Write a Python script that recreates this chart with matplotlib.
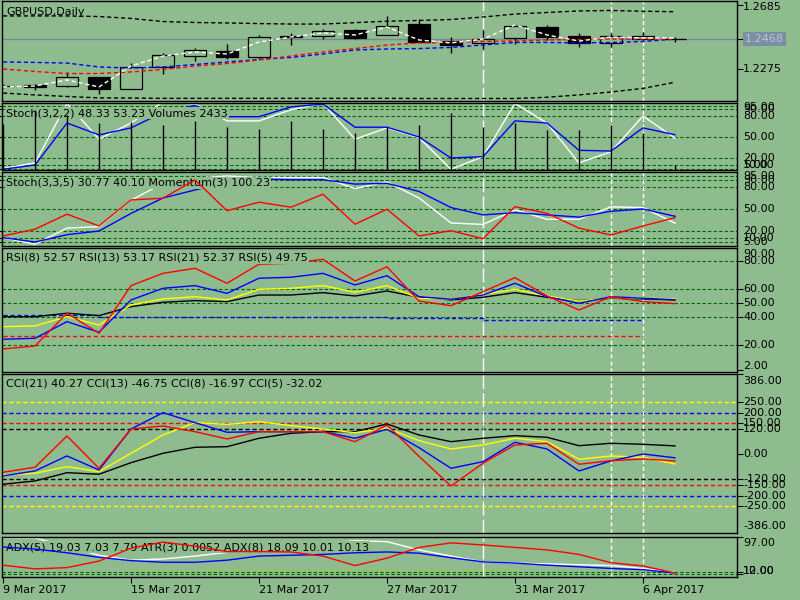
import matplotlib
matplotlib.use('Agg')
import matplotlib.pyplot as plt
from matplotlib.patches import Rectangle

BG = '#8fbc8f'
GRID = '#006400'
W, H = 800, 600

# ---- data (one value per daily bar) ----
date_idx = [0, 4, 8, 12, 16, 20]
date_labels = ['9 Mar 2017', '15 Mar 2017', '21 Mar 2017', '27 Mar 2017', '31 Mar 2017', '6 Apr 2017']

opens = [1.2169, 1.2172, 1.2166, 1.2224, 1.2147, 1.2288, 1.2358, 1.2390, 1.2352, 1.2486, 1.2486,
         1.2525, 1.2493, 1.2563, 1.2454, 1.2442, 1.2474, 1.2544, 1.2486, 1.2442, 1.2467, 1.2470]
highs = [1.2179, 1.2179, 1.2256, 1.2224, 1.2313, 1.2378, 1.2410, 1.2435, 1.2493, 1.2506, 1.2531,
         1.2531, 1.2615, 1.2595, 1.2480, 1.2525, 1.2563, 1.2557, 1.2506, 1.2506, 1.2512, 1.2480]
lows = [1.2153, 1.2141, 1.2160, 1.2115, 1.2147, 1.2243, 1.2326, 1.2339, 1.2339, 1.2429, 1.2467,
        1.2467, 1.2493, 1.2448, 1.2378, 1.2403, 1.2435, 1.2461, 1.2416, 1.2416, 1.2461, 1.2448]
closes = [1.2163, 1.2160, 1.2224, 1.2147, 1.2288, 1.2365, 1.2397, 1.2352, 1.2480, 1.2480, 1.2518,
          1.2474, 1.2550, 1.2448, 1.2429, 1.2467, 1.2550, 1.2480, 1.2442, 1.2486, 1.2486, 1.2468]

ma_fast = [1.2160, 1.2166, 1.2205, 1.2160, 1.2294, 1.2358, 1.2384, 1.2371, 1.2448, 1.2480, 1.2506,
           1.2493, 1.2544, 1.2461, 1.2442, 1.2467, 1.2557, 1.2493, 1.2454, 1.2480, 1.2474, 1.2474]
ma_red = [1.2275, 1.2259, 1.2246, 1.2246, 1.2256, 1.2272, 1.2294, 1.2310, 1.2333, 1.2358, 1.2384,
          1.2406, 1.2429, 1.2442, 1.2445, 1.2451, 1.2454, 1.2461, 1.2464, 1.2467, 1.2467, 1.2467]
ma_blue = [1.2320, 1.2317, 1.2313, 1.2288, 1.2281, 1.2288, 1.2304, 1.2320, 1.2336, 1.2349, 1.2371,
           1.2397, 1.2403, 1.2406, 1.2413, 1.2429, 1.2445, 1.2445, 1.2442, 1.2445, 1.2451, 1.2467]
env_up = [1.2615, 1.2615, 1.2615, 1.2611, 1.2599, 1.2579, 1.2573, 1.2570, 1.2566, 1.2563, 1.2563,
          1.2572, 1.2581, 1.2586, 1.2592, 1.2608, 1.2627, 1.2637, 1.2647, 1.2650, 1.2645, 1.2642]
env_dn = [1.2121, 1.2109, 1.2099, 1.2090, 1.2089, 1.2087, 1.2087, 1.2087, 1.2087, 1.2087, 1.2087,
          1.2087, 1.2087, 1.2086, 1.2086, 1.2086, 1.2086, 1.2094, 1.2109, 1.2128, 1.2151, 1.2190]
last_price = 1.2468

stoch1_blue = [4, 10, 70, 53, 63, 85, 95, 79, 79, 93, 97, 64, 64, 50, 20, 22, 73, 70, 31, 30, 63, 53.23]
stoch1_white = [5, 13, 98, 47, 70, 100, 97, 73, 73, 89, 98, 47, 63, 49, 4, 22, 98, 70, 13, 29, 80, 48.33]
volumes = [27000, 35600, 32600, 27700, 28600, 26600, 29200, 25600, 24300, 29200, 24300,
           21700, 25600, 26600, 33600, 25300, 27700, 23700, 23700, 26600, 21700, 2433]

stoch2_blue = [11, 5, 15, 20, 44, 65, 76, 86, 91, 90, 90, 84, 85, 74, 52, 42, 45, 42, 39, 47, 50, 40.10]
stoch2_white = [11, 2, 24, 26, 62, 85, 92, 95, 93, 93, 93, 78, 87, 65, 31, 29, 49, 36, 36, 53, 52, 30.77]
momentum = [99.50, 99.77, 100.37, 99.90, 100.94, 101.01, 101.74, 100.51, 100.85, 100.65, 101.17,
            99.97, 100.57, 99.50, 99.71, 99.39, 100.67, 100.41, 99.81, 99.54, 99.90, 100.23]

rsi5 = [17.4, 19.5, 42.9, 28.6, 62.6, 71.4, 75, 64.3, 77.9, 78.6, 81.4, 65.9, 76.1, 51.6, 48.3,
        58.3, 68.3, 55.2, 45.2, 54.7, 51.2, 49.75]
rsi8 = [24.3, 25, 36.9, 29.3, 52.4, 60.7, 62.6, 57.1, 67.9, 68.6, 71.4, 63.1, 69.7, 54.7, 52.9,
        55.9, 64.3, 54.7, 50, 54.7, 53.6, 52.57]
rsi13 = [33.3, 33.8, 40.4, 34.5, 48.8, 53.1, 54.7, 52.4, 60, 60.7, 62.6, 57.9, 62.6, 53.6, 52.9,
         56.4, 60, 55.2, 51.6, 54, 53.6, 53.17]
rsi21 = [40.4, 40.4, 42.9, 41.2, 47.6, 50.7, 51.9, 51.2, 55.9, 55.9, 57.6, 55.2, 58.8, 54.3, 52.4,
         54.3, 57.6, 54.3, 51.9, 53.6, 53.1, 52.37]
rsi_blue_lvl = [41.5, 41.5, 41.5, 40.4, 40.4, 40.4, 40.4, 40.4, 40.4, 40.4, 40.4, 40.4, 39.3,
                39.3, 39.3, 38, 38, 38, 38, 38, 38]
rsi_red_lvl = [26.6] * 21

cci5 = [-86.5, -62.5, 88, -67.3, 121.6, 136, 108.7, 73.6, 108.7, 108.7, 108.7, 60.6, 140.9, -10,
        -152.4, -43, 44.7, 52.9, -48, -30.8, -22.6, -32.02]
cci8 = [-104, -80, -8, -75.5, 121.6, 200, 152, 105.8, 108.7, 108.7, 108.7, 76.9, 120.2, 31.7,
        -67.3, -35.6, 57.7, 25.5, -80.3, -32, 1.4, -16.97]
cci13 = [-99.5, -91.3, -59.6, -83.7, 4.8, 92.8, 152, 144, 156.7, 137.5, 121.6, 103.8, 125, 65.4,
         25.5, 44.7, 76.9, 60.6, -24, -8.2, -14.4, -46.75]
cci21 = [-144, -128.4, -88.5, -96, -40.4, 4.8, 33.6, 36.5, 76.9, 101, 108.7, 108.7, 145.7, 92.8,
         60.6, 76.9, 89.4, 81.7, 41.3, 52.9, 48, 40.27]

adx_white = [94, 94, 73, 52, 40, 43, 50, 59, 67, 74, 81, 87, 85, 65, 50, 36, 33, 31, 29, 27, 20, 10]
adx_blue = [72, 67, 58, 47, 39, 35, 35, 40, 50, 52, 54, 58, 60, 57, 46, 36, 33, 28, 24, 20, 17, 9]
adx_red = [28, 19, 22, 38, 69, 84, 74, 61, 61, 60, 50, 27, 45, 71, 82, 77, 71, 65, 54, 34, 26, 9]
atr_lvl = [16] * 13

n = len(closes)
xs = list(range(n))

fig = plt.figure(figsize=(8, 6), dpi=100, facecolor=BG)


def panel(top, bottom, ylim):
    ax = fig.add_axes([2 / W, 1 - bottom / H, 735 / W, (bottom - top) / H])
    ax.set_facecolor(BG)
    ax.set_xlim(-1 / 32, 734 / 32)
    ax.set_ylim(*ylim)
    for s in ax.spines.values():
        s.set_color('black')
        s.set_linewidth(1)
    ax.set_xticks([])
    ax.yaxis.tick_right()
    ax.tick_params(axis='y', right=True, left=False, labelright=False, labelleft=False,
                   length=4, width=0.8, direction='out', color='black')
    # period separators
    ax.axvline(15, color='white', lw=1, ls=(0, (10, 3)), zorder=1.5)
    for d in (19, 20):
        ax.axvline(d, color='white', lw=1, ls=(0, (3, 2)), zorder=1.5)
    ax._px = (top, bottom)
    return ax


def right_labels(ax, values, labels, margin=6):
    top, bottom = ax._px
    lo, hi = ax.get_ylim()
    ax.set_yticks([v for v in values if lo <= v <= hi])
    ax.set_ylim(lo, hi)
    for v, s in zip(values, labels):
        y = top + (hi - v) / (hi - lo) * (bottom - top)
        y = min(max(y, top + margin), bottom - margin)
        fig.text(743 / W, 1 - y / H, s, fontsize=8, va='center', ha='left')


def title(ax, y, s, z=3):
    ax.text(6 / W, 1 - y / H, s, transform=fig.transFigure, fontsize=8, va='center', ha='left',
            zorder=z, clip_on=False,
            bbox=dict(boxstyle='square,pad=0.1', facecolor=BG, edgecolor='none'))


def levels(ax, vals):
    for v in vals:
        ax.axhline(v, color=GRID, lw=0.8, ls=(0, (3, 2)), zorder=1)


dash = (0, (3, 2))

# ---- main price panel ----
ax1 = panel(1, 101, (1.2070, 1.27106))
ax1.axhline(last_price, color='#778899', lw=1, zorder=1)
bw = 22 / 32
for i in xs:
    o, h, l, c = opens[i], highs[i], lows[i], closes[i]
    bull = c >= o
    ax1.vlines(i, l, h, color='black', lw=1, zorder=2)
    ax1.add_patch(Rectangle((i - bw / 2, min(o, c)), bw, max(abs(c - o), 0.00005),
                            facecolor=BG if bull else 'black', edgecolor='black', lw=0.9, zorder=3))
ax1.plot(xs, env_up, color='black', lw=1, ls=dash, zorder=4)
ax1.plot(xs, env_dn, color='black', lw=1, ls=dash, zorder=4)
ax1.plot(xs, ma_blue, color='blue', lw=1, ls=dash, zorder=4)
ax1.plot(xs, ma_red, color='red', lw=1, ls=dash, zorder=4)
ax1.plot(xs, ma_fast, color='white', lw=1, ls=dash, zorder=5)
right_labels(ax1, [1.2685, 1.2275], ['1.2685', '1.2275'])
ax1.set_yticks([1.2685, 1.2468, 1.2275])
ax1.set_ylim(1.2070, 1.27106)
fig.text(745 / W, 1 - 39 / H, '1.2468', fontsize=8, va='center', ha='left', color='#b8c6d6',
         bbox=dict(boxstyle='square,pad=0.15', facecolor='#7d8da3', edgecolor='none'))
title(ax1, 12, 'GBPUSD,Daily')

# ---- Stoch(3,2,2) + Volumes ----
ax2 = panel(102.7, 169.5, (3.6, 99))
levels(ax2, [95, 90, 80, 50, 20, 10, 5])
ax2.plot(xs, stoch1_white, color='white', lw=1, zorder=2)
ax2.plot(xs, stoch1_blue, color='blue', lw=1, zorder=2)
title(ax2, 113, 'Stoch(3,2,2) 48.33 53.23 Volumes 2433')
ax2v = ax2.twinx()
ax2v.set_ylim(0, 40000)
ax2v.set_yticks([])
ax2v.axis('off')
ax2v.vlines(xs, 0, volumes, color='black', lw=1)
right_labels(ax2, [95, 90, 80, 50, 20, 10, 5], ['95.00', '90.00', '80.00', '50.00', '20.00', '10.00', '5.00'], margin=4)

# ---- Stoch(3,3,5) + Momentum ----
ax3 = panel(171.7, 245.7, (0, 100.9))
levels(ax3, [95, 90, 80, 50, 20, 10, 5])
ax3.plot(xs, stoch2_white, color='white', lw=1, zorder=2)
ax3.plot(xs, stoch2_blue, color='blue', lw=1, zorder=2)
title(ax3, 183, 'Stoch(3,3,5) 30.77 40.10 Momentum(3) 100.23')
ax3m = ax3.twinx()
ax3m.set_ylim(99.11, 102.07)
ax3m.axis('off')
ax3m.plot(xs, momentum, color='red', lw=1)
right_labels(ax3, [95, 90, 80, 50, 20, 10, 5], ['95.00', '90.00', '80.00', '50.00', '20.00', '10.00', '5.00'], margin=4)

# ---- RSI ----
ax4 = panel(247.7, 371.7, (1.14, 89.7))
levels(ax4, [80, 60, 50, 40, 20])
ax4.plot(range(len(rsi_blue_lvl)), rsi_blue_lvl, color='blue', lw=1, ls=dash, drawstyle='steps-post', zorder=1.6)
ax4.plot(range(len(rsi_red_lvl)), rsi_red_lvl, color='red', lw=1, ls=dash, zorder=1.6)
ax4.plot(xs, rsi21, color='black', lw=1, zorder=2)
ax4.plot(xs, rsi13, color='yellow', lw=1, zorder=2)
ax4.plot(xs, rsi8, color='blue', lw=1, zorder=2)
ax4.plot(xs, rsi5, color='red', lw=1, zorder=2)
title(ax4, 258, 'RSI(8) 52.57 RSI(13) 53.17 RSI(21) 52.37 RSI(5) 49.75')
right_labels(ax4, [90, 80, 60, 50, 40, 20, 2], ['90.00', '80.00', '60.00', '50.00', '40.00', '20.00', '2.00'])

# ---- CCI ----
ax5 = panel(374, 533.3, (-380, 386))
for v, col in ((250, 'yellow'), (200, 'blue'), (150, 'red'), (120, 'black')):
    ax5.axhline(v, color=col, lw=1, ls=dash, zorder=1)
    ax5.axhline(-v, color=col, lw=1, ls=dash, zorder=1)
ax5.plot(xs, cci21, color='black', lw=1, zorder=2)
ax5.plot(xs, cci13, color='yellow', lw=1, zorder=2)
ax5.plot(xs, cci8, color='blue', lw=1, zorder=2)
ax5.plot(xs, cci5, color='red', lw=1, zorder=2)
title(ax5, 384, 'CCI(21) 40.27 CCI(13) -46.75 CCI(8) -16.97 CCI(5) -32.02')
cci_ticks = [386, 250, 200, 150, 120, 0, -120, -150, -200, -250, -386]
right_labels(ax5, cci_ticks, ['%.2f' % v for v in cci_ticks], margin=7)

# ---- ADX / ATR ----
ax6 = panel(536.7, 576.7, (0, 97))
levels(ax6, [12, 7])
ax6.plot(range(4, 4 + len(atr_lvl)), atr_lvl, color='#9acd32', lw=1, ls=dash, zorder=1.6)
ax6.plot(xs, adx_white, color='white', lw=1, zorder=2)
title(ax6, 547, 'ADX(5) 19.03 7.03 7.79 ATR(3) 0.0052 ADX(8) 18.09 10.01 10.13')
ax6.plot(xs, adx_blue, color='blue', lw=1, zorder=4)
ax6.plot(xs, adx_red, color='red', lw=1, zorder=4)
right_labels(ax6, [97, 12, 7], ['97.00', '12.00', '10.00'], margin=6)
ax6.set_xticks(date_idx)
ax6.set_xticklabels(date_labels, ha='left', fontsize=8)
ax6.tick_params(axis='x', bottom=True, length=4, width=0.8, direction='out', pad=2, color='black')

fig.savefig('out.png', dpi=100, facecolor=BG)
